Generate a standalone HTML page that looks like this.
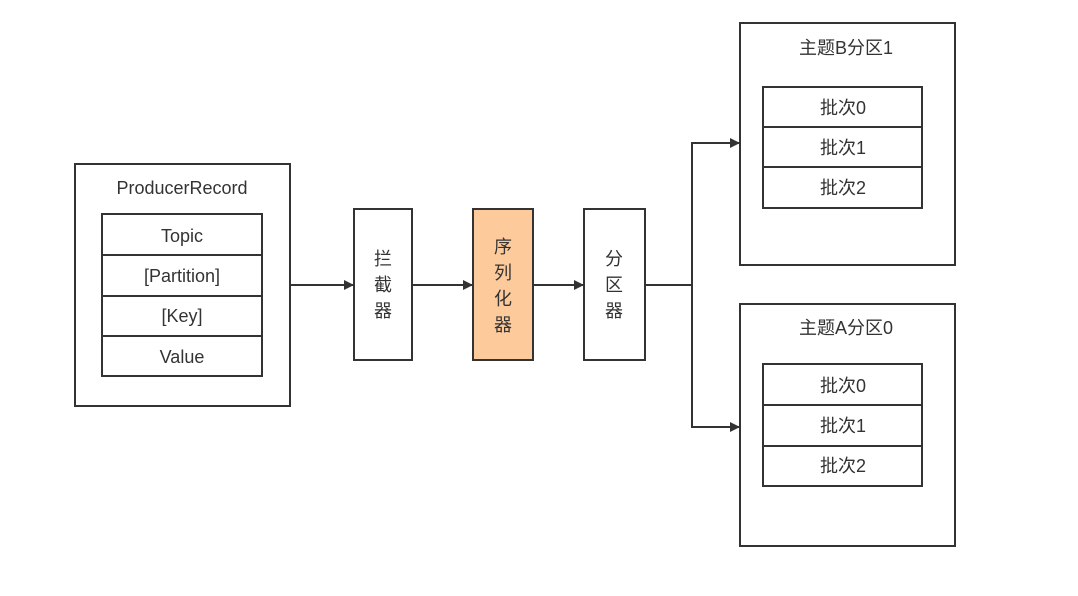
<!DOCTYPE html>
<html><head><meta charset="utf-8"><style>body{margin:0;background:#fff}</style></head><body>
<svg width="1078" height="591" xmlns="http://www.w3.org/2000/svg" font-family="Liberation Sans, Noto Sans CJK SC, sans-serif" font-size="18" fill="#333">
<defs><marker id="a" markerWidth="10" markerHeight="10" refX="9" refY="5" orient="auto" markerUnits="userSpaceOnUse"><path d="M0,0L10,5L0,10z" fill="#333"/></marker></defs>
<g stroke="#333" stroke-width="2" fill="none">
<rect x="75" y="164" width="215" height="242"/>
<rect x="102" y="214" width="160" height="162" fill="#fff"/>
<line x1="102" y1="255" x2="262" y2="255"/><line x1="102" y1="296" x2="262" y2="296"/><line x1="102" y1="336" x2="262" y2="336"/>
<rect x="354" y="209" width="58" height="151" fill="#fff"/>
<rect x="473" y="209" width="60" height="151" fill="#fdca9c"/>
<rect x="584" y="209" width="61" height="151" fill="#fff"/>
<rect x="740" y="23" width="215" height="242"/>
<rect x="763" y="87" width="159" height="121"/>
<line x1="763" y1="127" x2="922" y2="127"/><line x1="763" y1="167" x2="922" y2="167"/>
<rect x="740" y="304" width="215" height="242"/>
<rect x="763" y="364" width="159" height="122"/>
<line x1="763" y1="405" x2="922" y2="405"/><line x1="763" y1="446" x2="922" y2="446"/>
<line x1="290" y1="285" x2="353" y2="285" marker-end="url(#a)"/>
<line x1="412" y1="285" x2="472" y2="285" marker-end="url(#a)"/>
<line x1="533" y1="285" x2="583" y2="285" marker-end="url(#a)"/>
<polyline points="645,285 692,285"/>
<polyline points="739,143 692,143 692,427 739,427" marker-end="url(#a)"/>
<line x1="692" y1="143" x2="739" y2="143" marker-end="url(#a)"/>
</g>
<g text-anchor="middle">
<text x="182" y="194">ProducerRecord</text>
<text x="182" y="242">Topic</text>
<text x="182" y="282">[Partition]</text>
<text x="182" y="322">[Key]</text>
<text x="182" y="363">Value</text>
<text x="383" y="265">拦</text><text x="383" y="291">截</text><text x="383" y="317">器</text>
<text x="503" y="253">序</text><text x="503" y="279">列</text><text x="503" y="305">化</text><text x="503" y="331">器</text>
<text x="614" y="265">分</text><text x="614" y="291">区</text><text x="614" y="317">器</text>
<text x="846" y="54">主题B分区1</text>
<text x="843" y="114">批次0</text><text x="843" y="154">批次1</text><text x="843" y="194">批次2</text>
<text x="846" y="334">主题A分区0</text>
<text x="843" y="392">批次0</text><text x="843" y="432">批次1</text><text x="843" y="472">批次2</text>
</g>
</svg>
</body></html>
